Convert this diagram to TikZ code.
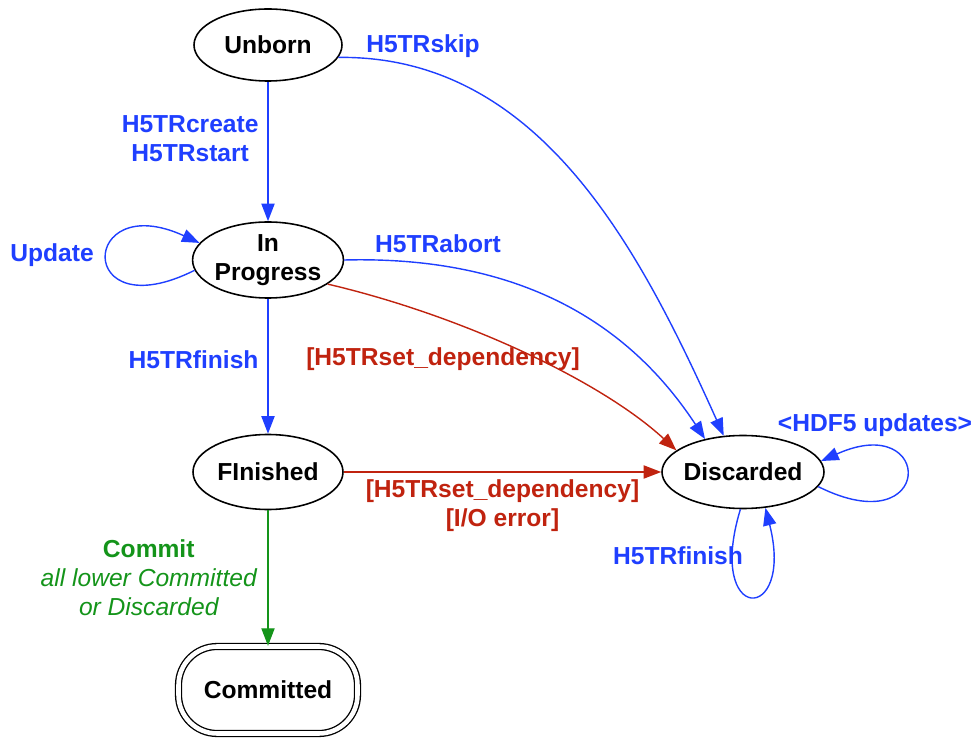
\documentclass[tikz,border=0pt]{standalone}
\usepackage{fontspec}
\setmainfont{Liberation Sans}
\usetikzlibrary{arrows.meta,positioning,shapes.geometric}
\definecolor{ink}{HTML}{000000}
\definecolor{tblue}{HTML}{1F3FFF}
\definecolor{tred}{HTML}{C0230F}
\definecolor{tgreen}{HTML}{14941A}

\begin{document}
\begin{tikzpicture}[
  font=\fontsize{14}{16.5}\selectfont\bfseries,
  >={Triangle[length=10pt,width=7.5pt]},
  state/.style={
    ellipse,
    draw=ink,
    line width=0.9pt,
    inner sep=0pt,
    align=center
  },
  final/.style={
    draw=ink,
    double,
    double distance=2.6pt,
    line width=0.75pt,
    rounded corners=22pt,
    minimum width=3.58cm,
    minimum height=1.74cm
  },
  lbl/.style={align=center, inner sep=0pt},
  go/.style={->, line width=0.8pt, tblue},
  fail/.style={->, line width=0.8pt, tred},
  done/.style={->, line width=0.8pt, tgreen}
]

\path[use as bounding box] (0,0) rectangle (19.54,14.80);

% states
\node[state, minimum width=2.96cm, minimum height=1.44cm] (unborn) at (5.36,13.90) {Unborn};
\node[state, minimum width=3.00cm, minimum height=1.52cm] (prog) at (5.36,9.60) {In\\Progress};
\node[state, minimum width=3.00cm, minimum height=1.50cm] (fin) at (5.36,5.36) {FInished};
\node[state, minimum width=3.24cm, minimum height=1.46cm, inner xsep=-2.5pt] (disc) at (14.86,5.36) {Discarded};
\node[final] (commit) at (5.36,1.00) {Committed};

% straight transitions
\draw[go] (unborn) -- (prog) node[lbl, left=5pt, pos=0.41] {H5TRcreate\\H5TRstart};
\draw[go] (prog) -- (fin) node[lbl, left=5pt, pos=0.45] {H5TRfinish};
\draw[done] (fin) -- (commit) node[lbl, left=6pt, midway]
  {Commit\\{\mdseries\itshape all lower Committed}\\{\mdseries\itshape or Discarded}};
\draw[fail] (fin) -- (disc) node[lbl, below=4pt, midway] {[H5TRset\_dependency]\\{[I/O error]}};

% curved transitions to Discarded
\draw[go] (unborn.-10) .. controls (10.8,13.7) and (12.8,9.8) .. (disc.118);
\draw[go] (prog.east) .. controls (10.8,9.7) and (12.8,8.0) .. (disc.139);
\draw[fail] (prog.-22) .. controls (9.2,8.5) and (12.0,7.2) .. (disc.162);

\node[lbl, text=tblue] (skiplbl) at (8.46,13.88) {H5TRskip};
\node[lbl, text=tblue] (abortlbl) at (8.76,9.92) {H5TRabort};
\node[lbl, text=tred] (deplbl) at (8.86,7.62) {[H5TRset\_dependency]};

% self loops
\draw[go] (prog.188) .. controls +(-2.4,-1.2) and +(-2.4,1.1) .. (prog.166);
\node[lbl, text=tblue] (updlbl) at (1.04,9.70) {Update};

\draw[go] (disc.-11) .. controls (18.7,3.9) and (18.7,6.6) .. (disc.8);
\node[lbl, text=tblue] (hdflbl) at (17.50,6.30) {<HDF5 updates>};

\draw[go] (disc.266) .. controls (14.1,2.3) and (15.9,2.3) .. (disc.302);
\node[lbl, text=tblue] (finlbl) at (13.56,3.68) {H5TRfinish};

\end{tikzpicture}
\end{document}
